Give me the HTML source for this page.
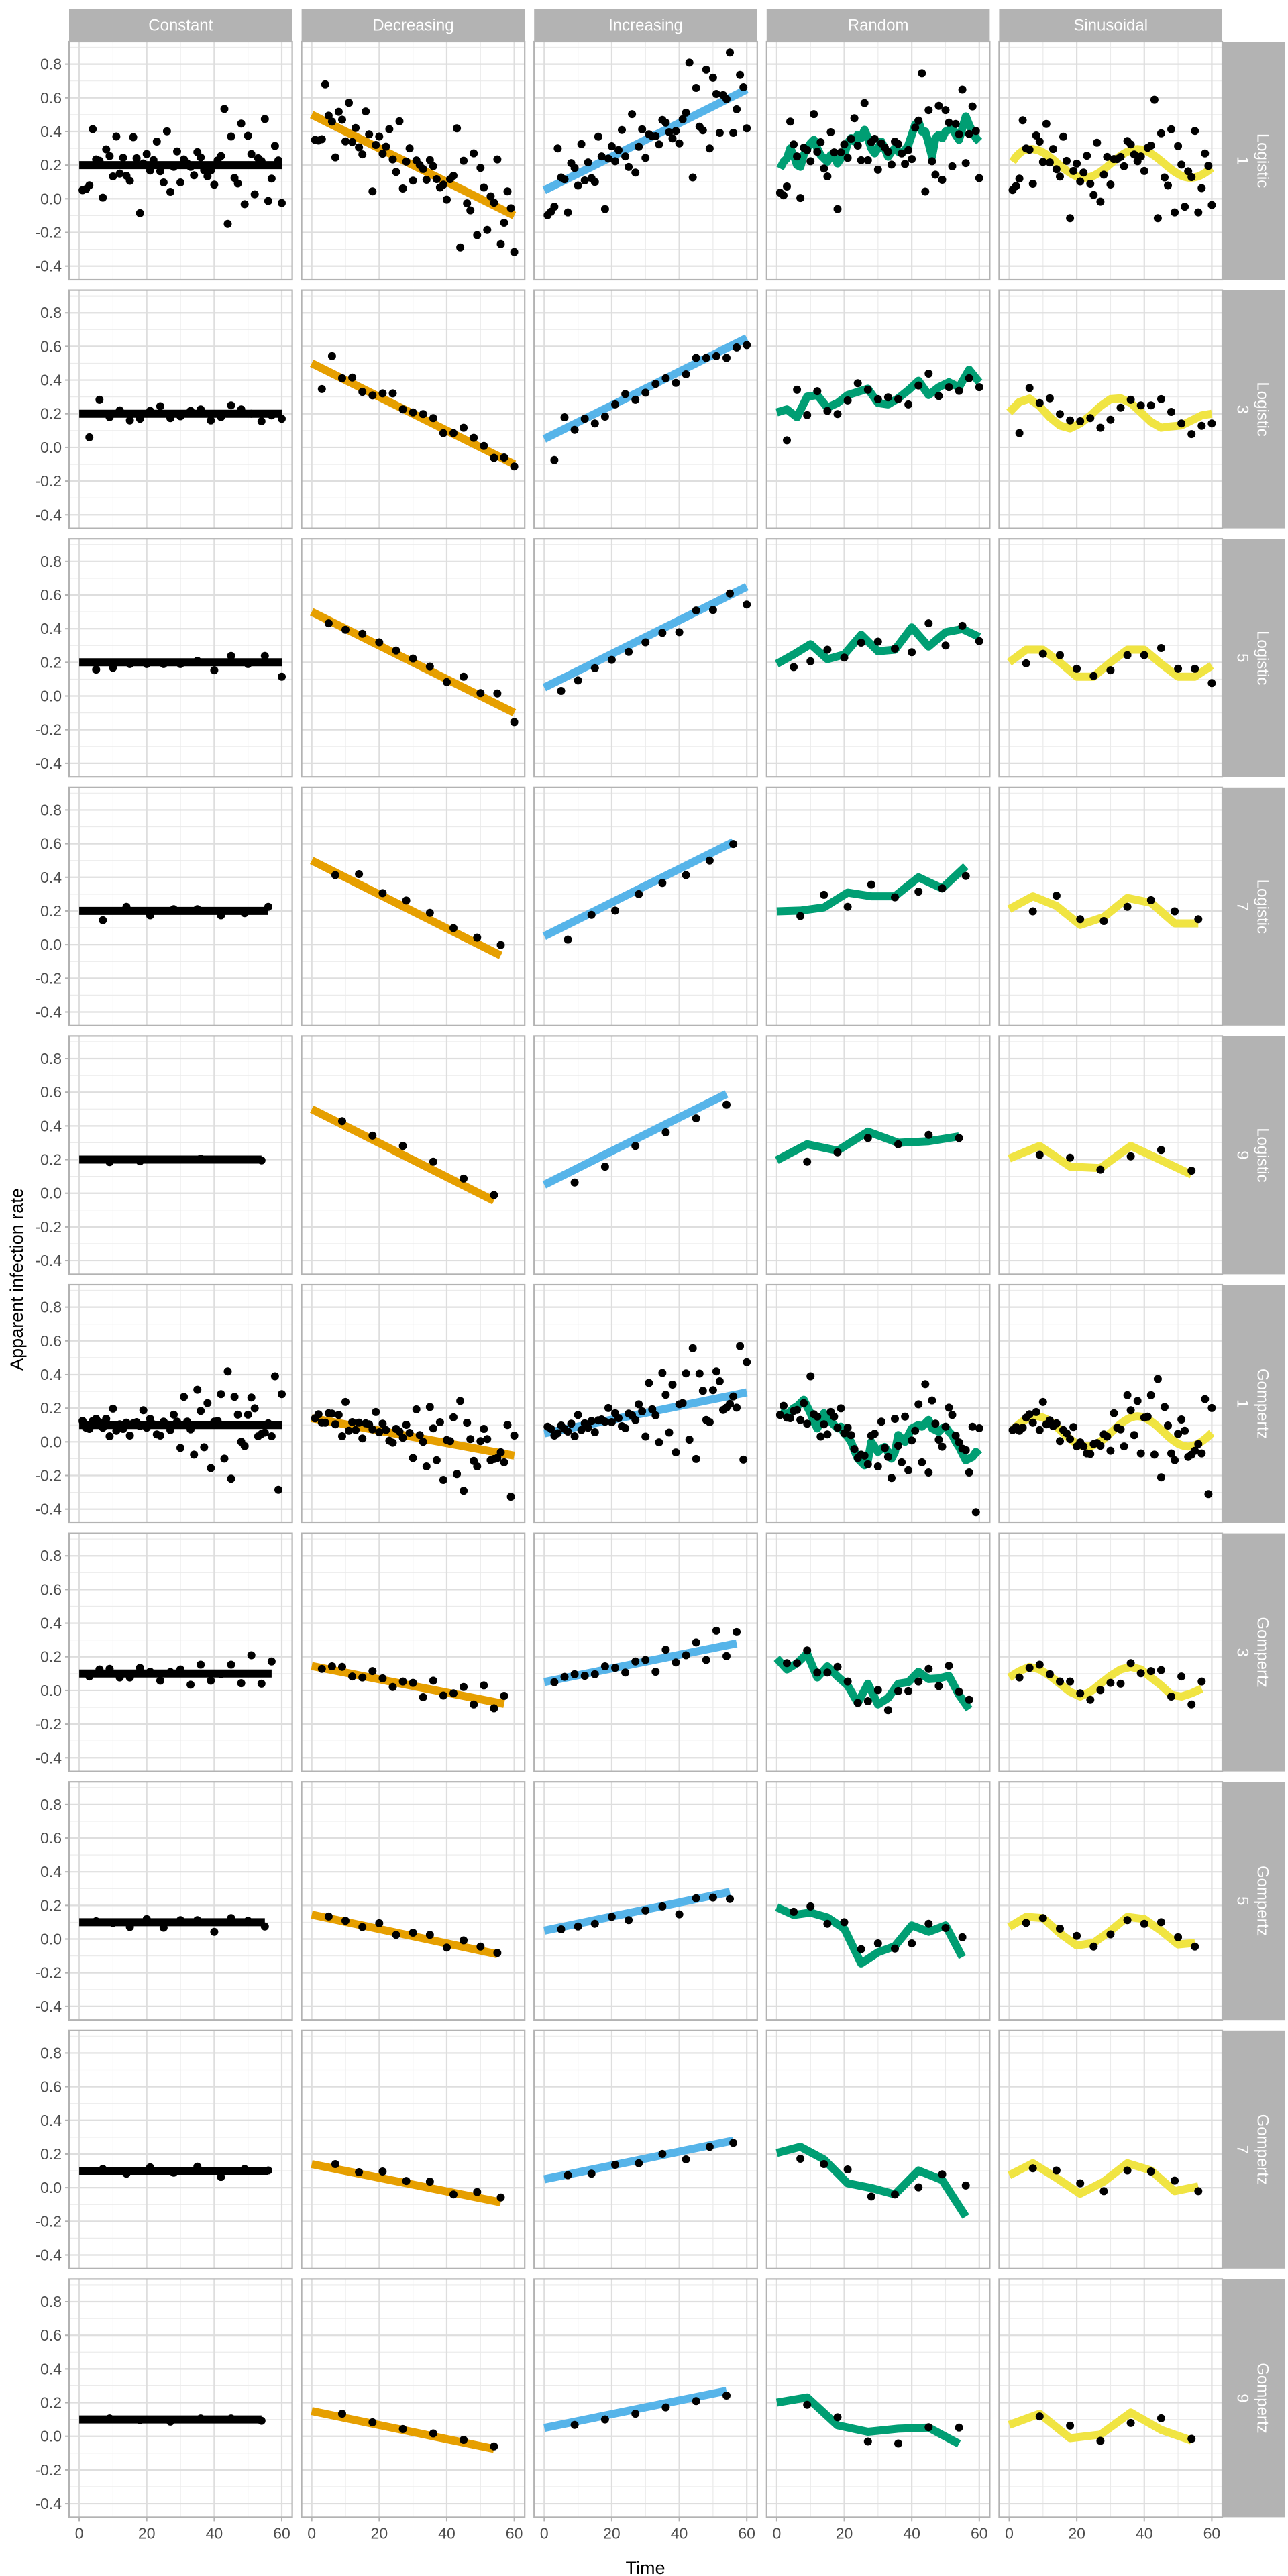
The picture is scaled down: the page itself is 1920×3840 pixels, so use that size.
<!DOCTYPE html>
<html><head><meta charset="utf-8"><style>
html,body{margin:0;padding:0;background:#fff;}
svg{display:block;font-family:"Liberation Sans",sans-serif;}
</style></head><body>
<svg id="chart" width="1920" height="3840" viewBox="0 0 1920 3840" xmlns="http://www.w3.org/2000/svg">
<rect x="0" y="0" width="1920" height="3840" fill="#ffffff"/>
<text x="25" y="1907" transform="rotate(-90 25 1907)" text-anchor="middle" dominant-baseline="central" font-size="27" fill="#000">Apparent infection rate</text>
<text x="962" y="3828" text-anchor="middle" dominant-baseline="central" font-size="27" fill="#000">Time</text>
</svg>
<script>
// ---------- categories ----------
const colNames = ['Constant','Decreasing','Increasing','Random','Sinusoidal'];
const rowModels = ['Logistic','Logistic','Logistic','Logistic','Logistic','Gompertz','Gompertz','Gompertz','Gompertz','Gompertz'];
const rowIntervals = ['1','3','5','7','9','1','3','5','7','9'];
const yTicks = [-0.4,-0.2,0.0,0.2,0.4,0.6,0.8];
const yTickLabels = ['-0.4','-0.2','0.0','0.2','0.4','0.6','0.8'];
const yMinor = [-0.3,-0.1,0.1,0.3,0.5,0.7,0.9];
const xTicks = [0,20,40,60];
const xTickLabels = ['0','20','40','60'];
const xMinor = [10,30,50];

// ---------- sampling times ----------
const tK1 = [1,2,3,4,5,6,7,8,9,10,11,12,13,14,15,16,17,18,19,20,21,22,23,24,25,26,27,28,29,30,31,32,33,34,35,36,37,38,39,40,41,42,43,44,45,46,47,48,49,50,51,52,53,54,55,56,57,58,59,60];
const lK1 = [0,60];
const tL3 = [3,6,9,12,15,18,21,24,27,30,33,36,39,42,45,48,51,54,57,60];
const lL3 = [0,3,6,9,12,15,18,21,24,27,30,33,36,39,42,45,48,51,54,57,60];
const tG3 = [3,6,9,12,15,18,21,24,27,30,33,36,39,42,45,48,51,54,57];
const lG3 = [0,3,6,9,12,15,18,21,24,27,30,33,36,39,42,45,48,51,54,57];
const tL5 = [5,10,15,20,25,30,35,40,45,50,55,60];
const lL5 = [0,5,10,15,20,25,30,35,40,45,50,55,60];
const tG5 = [5,10,15,20,25,30,35,40,45,50,55];
const lG5 = [0,5,10,15,20,25,30,35,40,45,50,55];
const t7 = [7,14,21,28,35,42,49,56];
const l7 = [0,7,14,21,28,35,42,49,56];
const t9 = [9,18,27,36,45,54];
const l9 = [0,9,18,27,36,45,54];

// ---------- trend lines (constant / decreasing / increasing), start at t=0 ----------
const constStart = [0.2,0.2,0.2,0.2,0.2,0.1,0.1,0.1,0.1,0.1];
const constEnd   = [0.2,0.2,0.2,0.2,0.2,0.1,0.1,0.1,0.1,0.1];
const decStart   = [0.5,0.5,0.5,0.5,0.5,0.141,0.145,0.145,0.14,0.15];
const decEnd     = [-0.1,-0.1,-0.1,-0.065,-0.045,-0.082,-0.08,-0.09,-0.087,-0.075];
const incStart   = [0.05,0.05,0.05,0.05,0.05,0.05,0.05,0.05,0.05,0.05];
const incEnd     = [0.65,0.65,0.65,0.61,0.59,0.294,0.28,0.28,0.28,0.27];

// ---------- Logistic 1 ----------
const L1_const = [.051,.057,.080,.414,.234,.226,.007,.294,.254,.133,.370,.150,.244,.137,.107,.366,.241,-.085,.210,.266,.168,.230,.340,.164,.097,.401,.041,.190,.281,.097,.234,.210,.190,.140,.277,.246,.170,.134,.168,.084,.228,.254,.534,-.149,.370,.124,.091,.447,-.032,.374,.266,.027,.241,.224,.474,-.013,.120,.314,.228,-.025];
const L1_dec = [.35,.346,.354,.68,.494,.459,.246,.517,.47,.341,.57,.337,.421,.306,.264,.519,.383,.044,.320,.370,.268,.310,.414,.234,.160,.461,.061,.221,.300,.108,.228,.201,.177,.113,.230,.194,.117,.067,.084,-.005,.117,.137,.419,-.289,.226,-.027,-.069,.270,-.216,.184,.067,-.185,.015,-.023,.234,-.269,-.142,.044,-.056,-.316];
const L1_inc = [-.097,-.077,-.047,.299,.127,.116,-.081,.212,.183,.079,.325,.109,.216,.123,.100,.369,.252,-.061,.239,.312,.223,.289,.409,.252,.189,.503,.156,.309,.413,.243,.383,.372,.372,.323,.469,.452,.396,.359,.403,.329,.473,.512,.809,.127,.659,.429,.407,.767,.299,.719,.623,.392,.616,.593,.869,.392,.532,.736,.663,.419];
const L1_rand = [.036,.02,.073,.459,.323,.252,.005,.303,.289,.223,.503,.279,.336,.18,.133,.396,.276,-.061,.276,.323,.243,.356,.479,.316,.229,.569,.229,.336,.356,.173,.329,.305,.28,.203,.34,.325,.269,.207,.289,.236,.423,.465,.745,.043,.527,.223,.143,.552,.113,.527,.453,.193,.445,.383,.649,.212,.385,.549,.403,.123];
const L1_randLine = [.18,.22,.24,.30,.26,.20,.19,.26,.30,.33,.35,.30,.26,.24,.22,.26,.25,.21,.24,.26,.33,.36,.34,.38,.36,.41,.36,.30,.27,.30,.34,.30,.25,.28,.30,.28,.27,.29,.32,.38,.44,.46,.40,.40,.33,.25,.36,.38,.36,.40,.41,.43,.38,.35,.42,.49,.44,.40,.36,.34];
const L1_sin = [.052,.076,.12,.467,.299,.292,.089,.376,.34,.219,.445,.216,.296,.176,.132,.369,.225,-.115,.165,.209,.103,.156,.256,.089,.023,.333,-.017,.143,.249,.085,.236,.236,.249,.193,.343,.323,.263,.223,.252,.165,.303,.316,.589,-.115,.389,.127,.079,.413,-.081,.313,.203,-.047,.163,.129,.403,-.081,.063,.269,.196,-.037];
const L1_sinLine = [.22,.25,.27,.285,.291,.295,.295,.291,.285,.275,.263,.249,.233,.216,.199,.183,.168,.154,.142,.133,.128,.125,.126,.130,.137,.148,.160,.175,.191,.208,.225,.241,.256,.269,.280,.288,.293,.295,.293,.288,.280,.269,.256,.241,.225,.208,.191,.175,.160,.148,.137,.130,.126,.125,.128,.133,.142,.154,.168,.183];

// ---------- Logistic 3 ----------
const L3_const = [.06,.283,.18,.22,.16,.17,.217,.245,.174,.185,.217,.226,.16,.18,.25,.226,.2,.155,.19,.17];
const L3_dec = [.347,.543,.411,.415,.330,.309,.321,.321,.226,.208,.198,.174,.085,.085,.117,.057,.009,-.062,-.06,-.113];
const L3_inc = [-.075,.179,.104,.17,.142,.183,.255,.317,.283,.325,.377,.411,.383,.434,.532,.532,.542,.532,.594,.608];
const L3_rand = [.042,.343,.192,.334,.217,.198,.279,.381,.343,.287,.298,.287,.255,.368,.438,.306,.358,.336,.411,.358];
const L3_randLine = [.208,.226,.179,.302,.311,.236,.264,.311,.330,.349,.264,.255,.292,.34,.396,.311,.358,.387,.358,.462,.387];
const L3_sin = [.085,.353,.264,.292,.198,.16,.155,.174,.117,.164,.236,.283,.25,.25,.287,.211,.142,.079,.128,.142];
const L3_sinLine = [.208,.27,.29,.245,.179,.13,.113,.142,.189,.245,.287,.292,.264,.208,.151,.117,.125,.13,.16,.19,.2];

// ---------- Logistic 5 ----------
const L5_const = [.157,.168,.19,.19,.19,.19,.209,.153,.238,.19,.238,.115];
const L5_dec = [.432,.394,.37,.319,.27,.223,.175,.083,.115,.017,.015,-.155];
const L5_inc = [.03,.092,.166,.215,.262,.319,.375,.379,.508,.511,.609,.543];
const L5_rand = [.172,.206,.275,.228,.317,.323,.281,.26,.432,.3,.417,.326];
const L5_randLine = [.191,.247,.308,.219,.247,.364,.266,.275,.408,.294,.379,.398,.351];
const L5_sin = [.194,.251,.243,.162,.119,.153,.243,.243,.285,.162,.162,.077];
const L5_sinLine = [.2,.275,.275,.2,.115,.115,.2,.275,.275,.191,.115,.115,.181];

// ---------- Logistic 7 ----------
const L7_const = [.145,.225,.174,.211,.211,.174,.187,.225];
const L7_dec = [.413,.419,.306,.262,.189,.098,.042,-.002];
const L7_inc = [.03,.177,.202,.3,.366,.413,.5,.598];
const L7_rand = [.17,.296,.225,.357,.281,.315,.334,.408];
const L7_randLine = [.198,.202,.221,.309,.287,.287,.4,.334,.466];
const L7_sin = [.198,.291,.151,.14,.225,.264,.198,.151];
const L7_sinLine = [.211,.287,.23,.117,.164,.277,.249,.126,.126];

// ---------- Logistic 9 ----------
const L9_const = [.185,.19,.2,.206,.2,.195];
const L9_dec = [.428,.342,.281,.187,.087,-.011];
const L9_inc = [.064,.158,.281,.362,.445,.526];
const L9_rand = [.187,.243,.328,.291,.347,.328];
const L9_randLine = [.196,.291,.253,.366,.3,.309,.338];
const L9_sin = [.228,.211,.14,.219,.257,.134];
const L9_sinLine = [.206,.281,.158,.149,.281,.196,.111];

// ---------- Gompertz 1 ----------
const G1_const = [.124,.084,.077,.124,.137,.117,.084,.137,.033,.197,.066,.104,.077,.114,.037,.110,.117,.093,.188,.084,.137,.104,.044,.037,.12,.104,.07,.161,.12,-.036,.267,.12,.074,-.076,.31,.184,-.032,.23,-.156,.12,.124,.283,-.1,.419,-.219,.267,.161,0,-.025,.161,.263,.199,.033,.047,.055,.11,.033,.39,-.285,.283];
const G1_dec = [.14,.164,.114,.114,.170,.168,.104,.160,.033,.237,.066,.117,.070,.114,.020,.110,.104,.074,.177,.057,.108,.070,.007,-.005,.077,.061,.024,.101,.053,-.096,.193,.040,0,-.146,.207,.080,-.109,.117,-.226,.011,.004,.146,-.191,.243,-.291,.113,.016,-.113,-.146,.004,.077,.016,-.109,-.102,-.096,-.062,-.122,.100,-.326,.037];
const G1_inc = [.09,.077,.037,.051,.097,.077,.061,.108,.033,.160,.070,.110,.084,.124,.057,.128,.133,.12,.201,.117,.170,.141,.093,.081,.168,.157,.13,.223,.181,.031,.350,.194,.157,-.003,.410,.279,.055,.340,-.063,.223,.230,.407,.013,.556,-.102,.406,.303,.13,.117,.307,.419,.360,.190,.203,.226,.270,.203,.569,-.106,.473];
const G1_rand = [.16,.214,.144,.141,.184,.190,.130,.230,.108,.390,.164,.150,.031,.104,.044,.177,.150,.084,.199,.051,.084,.040,-.043,-.096,-.076,-.082,-.133,.037,.048,-.146,.12,-.036,-.089,-.215,.137,-.023,-.122,.150,-.169,.008,.066,.223,-.122,.343,-.182,.246,.108,.013,-.029,.090,.203,.160,.037,-.003,-.040,-.049,-.182,.090,-.418,.081];
const G1_randLine = [.18,.17,.16,.18,.20,.21,.23,.25,.21,.17,.12,.08,.12,.17,.14,.12,.10,.08,.09,.05,.03,.00,-.05,-.10,-.12,-.14,-.11,.00,-.03,-.06,-.04,-.03,-.06,-.10,-.06,.04,.02,.00,.04,.08,.09,.10,.09,.11,.13,.08,.07,.06,.08,.09,.06,.04,.00,-.03,-.07,-.11,-.10,-.09,-.06,-.08];
const G1_sin = [.07,.088,.066,.084,.144,.164,.114,.177,.070,.237,.104,.128,.093,.11,.004,.070,.051,.017,.088,-.027,-.003,-.027,-.069,-.072,-.013,-.007,-.023,.044,.031,-.053,.170,.084,.074,-.027,.277,.188,.040,.243,-.069,.144,.150,.277,-.076,.374,-.211,.207,.097,-.069,-.109,.047,.133,.066,-.089,-.076,-.053,-.013,-.069,.254,-.311,.201];
const G1_sinLine = [.071,.090,.107,.122,.135,.144,.150,.152,.150,.144,.135,.122,.107,.090,.071,.053,.034,.017,.002,-.011,-.020,-.026,-.028,-.026,-.020,-.011,.002,.017,.034,.053,.071,.090,.107,.122,.135,.144,.150,.152,.150,.144,.135,.122,.107,.090,.071,.053,.034,.017,.002,-.011,-.020,-.026,-.028,-.026,-.020,-.011,.002,.017,.034,.053];

// ---------- Gompertz 3 ----------
const G3_const = [.083,.125,.128,.077,.077,.134,.111,.058,.109,.125,.034,.153,.058,.096,.153,.043,.209,.04,.172];
const G3_dec = [.128,.143,.14,.083,.077,.115,.072,.021,.053,.045,-.04,.058,-.03,-.017,.021,-.083,.03,-.106,-.032];
const G3_inc = [.049,.081,.096,.087,.096,.143,.134,.106,.172,.181,.111,.242,.166,.209,.285,.181,.355,.204,.347];
const G3_rand = [.162,.162,.238,.106,.106,.14,.053,-.074,-.064,.002,-.117,-.004,-.004,.053,.128,.026,.147,-.008,-.055];
const G3_randLine = [.191,.125,.162,.219,.077,.143,.083,.030,-.074,.04,-.083,-.045,.04,.049,.111,.068,.072,.087,-.026,-.111];
const G3_sin = [.077,.134,.153,.096,.053,.053,-.017,-.055,.002,.045,.04,.162,.102,.115,.121,-.036,.083,-.083,.053];
const G3_sinLine = [.077,.115,.14,.125,.087,.04,-.008,-.036,-.008,.04,.087,.125,.14,.125,.077,.03,-.026,-.036,-.017,.011];

// ---------- Gompertz 5 ----------
const G5_const = [.106,.096,.072,.119,.068,.113,.113,.043,.125,.109,.075];
const G5_dec = [.134,.109,.072,.094,.025,.038,.025,-.051,-.008,-.045,-.083];
const G5_inc = [.058,.075,.091,.132,.113,.17,.194,.147,.242,.247,.238];
const G5_rand = [.162,.194,.091,.1,-.06,-.026,-.057,-.026,.091,.066,.011];
const G5_randLine = [.189,.143,.157,.128,.062,-.145,-.079,-.042,.081,.043,.081,-.108];
const G5_sin = [.096,.125,.062,.019,-.045,.028,.113,.091,.1,.011,-.045];
const G5_sinLine = [.072,.132,.125,.034,-.038,-.023,.049,.132,.119,.049,-.032,-.023];

// ---------- Gompertz 7 ----------
const G7_const = [.111,.083,.121,.089,.125,.064,.111,.102];
const G7_dec = [.14,.092,.096,.04,.036,-.04,-.026,-.058];
const G7_inc = [.074,.083,.136,.145,.2,.168,.243,.266];
const G7_rand = [.172,.14,.108,-.053,-.04,.002,.079,.013];
const G7_randLine = [.206,.243,.168,.026,-.002,-.04,.102,.045,-.172];
const G7_sin = [.115,.102,.026,-.021,.102,.096,.042,-.021];
const G7_sinLine = [.074,.145,.058,-.036,.036,.145,.102,-.021,.008];

// ---------- Gompertz 9 ----------
const G9_const = [.106,.096,.087,.106,.106,.092];
const G9_dec = [.134,.083,.043,.017,-.021,-.06];
const G9_inc = [.068,.1,.134,.172,.209,.242];
const G9_rand = [.187,.113,-.031,-.043,.054,.052];
const G9_randLine = [.20,.231,.065,.027,.045,.052,-.045];
const G9_sin = [.118,.063,-.027,.079,.107,-.015];
const G9_sinLine = [.068,.134,-.011,.010,.141,.038,-.025];

// ---------- per-row references ----------
const rowPointTimes = [tK1,tL3,tL5,t7,t9,tK1,tG3,tG5,t7,t9];
const rowLineTimes  = [tK1,lL3,lL5,l7,l9,tK1,lG3,lG5,l7,l9];
const rowTrendEndT  = [lK1,lL3,lL5,l7,l9,lK1,lG3,lG5,l7,l9];
const constRows = [L1_const,L3_const,L5_const,L7_const,L9_const,G1_const,G3_const,G5_const,G7_const,G9_const];
const decRows   = [L1_dec,L3_dec,L5_dec,L7_dec,L9_dec,G1_dec,G3_dec,G5_dec,G7_dec,G9_dec];
const incRows   = [L1_inc,L3_inc,L5_inc,L7_inc,L9_inc,G1_inc,G3_inc,G5_inc,G7_inc,G9_inc];
const randRows  = [L1_rand,L3_rand,L5_rand,L7_rand,L9_rand,G1_rand,G3_rand,G5_rand,G7_rand,G9_rand];
const randLines = [L1_randLine,L3_randLine,L5_randLine,L7_randLine,L9_randLine,G1_randLine,G3_randLine,G5_randLine,G7_randLine,G9_randLine];
const sinRows   = [L1_sin,L3_sin,L5_sin,L7_sin,L9_sin,G1_sin,G3_sin,G5_sin,G7_sin,G9_sin];
const sinLines  = [L1_sinLine,L3_sinLine,L5_sinLine,L7_sinLine,L9_sinLine,G1_sinLine,G3_sinLine,G5_sinLine,G7_sinLine,G9_sinLine];
const colColors = ['#000000','#E69F00','#56B4E9','#009E73','#F0E442'];

// ---------- layout & scales ----------
const NS = 'http://www.w3.org/2000/svg';
const svg = document.getElementById('chart');
const P_LEFT = 103, P_STEP = 346.6, P_W = 332.6;
const P_TOP = 62, R_STEP = 370.6, P_H = 355;
const X_MIN = -3, X_MAX = 63.1, Y_MIN = -0.481, Y_MAX = 0.934;
function xScale(c, t){ return P_LEFT + c*P_STEP + (t - X_MIN)/(X_MAX - X_MIN)*P_W; }
function yScale(r, v){ return P_TOP + r*R_STEP + (Y_MAX - v)/(Y_MAX - Y_MIN)*P_H; }
function mk(tag, attrs, parent){
  const e = document.createElementNS(NS, tag);
  for (const k in attrs) e.setAttribute(k, attrs[k]);
  (parent || svg).appendChild(e);
  return e;
}

// column strips
colNames.forEach((name, c) => {
  const g = mk('g', {});
  
  
  const x0 = P_LEFT + c*P_STEP;
  mk('rect', {x:x0, y:14, width:P_W, height:48, fill:'#B3B3B3'}, g);
  const t = mk('text', {x:x0 + P_W/2, y:38, 'text-anchor':'middle', 'dominant-baseline':'central', 'font-size':24, fill:'#ffffff'}, g);
  t.textContent = name;
});

// row strips
rowModels.forEach((m, r) => {
  const g = mk('g', {});
  
  
  const y0 = P_TOP + r*R_STEP;
  mk('rect', {x:1822, y:y0, width:93, height:P_H, fill:'#B3B3B3'}, g);
  const cx = 1868.5, cy = y0 + P_H/2;
  const t = mk('text', {x:cx, y:cy, 'text-anchor':'middle', 'font-size':24, fill:'#ffffff', transform:'rotate(90 '+cx+' '+cy+')'}, g);
  const s1 = mk('tspan', {x:cx, dy:-6}, t); s1.textContent = m;
  const s2 = mk('tspan', {x:cx, dy:30}, t); s2.textContent = rowIntervals[r];
});

function polyline(parent, c, r, ts, vs, color, name){
  const pts = ts.map((t, i) => xScale(c, t).toFixed(1) + ',' + yScale(r, vs[i]).toFixed(1)).join(' ');
  const pl = mk('polyline', {points:pts, fill:'none', stroke:color, 'stroke-width':12, 'stroke-linejoin':'round', 'stroke-linecap':'butt'}, parent);
  
  
}

for (let r = 0; r < 10; r++){
  for (let c = 0; c < 5; c++){
    const g = mk('g', {});
    
    
    const x0 = P_LEFT + c*P_STEP, y0 = P_TOP + r*R_STEP;
    mk('rect', {x:x0, y:y0, width:P_W, height:P_H, fill:'#ffffff'}, g);
    // minor grid
    yMinor.forEach(v => { const y = yScale(r, v); mk('line', {x1:x0, x2:x0+P_W, y1:y, y2:y, stroke:'#EBEBEB', 'stroke-width':1.2}, g); });
    xMinor.forEach(t => { const x = xScale(c, t); mk('line', {x1:x, x2:x, y1:y0, y2:y0+P_H, stroke:'#EBEBEB', 'stroke-width':1.2}, g); });
    // major grid
    yTicks.forEach(v => { const y = yScale(r, v); mk('line', {x1:x0, x2:x0+P_W, y1:y, y2:y, stroke:'#DEDEDE', 'stroke-width':2.2}, g); });
    xTicks.forEach(t => { const x = xScale(c, t); mk('line', {x1:x, x2:x, y1:y0, y2:y0+P_H, stroke:'#DEDEDE', 'stroke-width':2.2}, g); });

    const pT = rowPointTimes[r];
    const endT = rowTrendEndT[r][rowTrendEndT[r].length - 1];
    let pv;
    if (c === 0){ polyline(g, c, r, [0, endT], [constStart[r], constEnd[r]], colColors[c], 'trend-line-constant'); pv = constRows[r]; }
    else if (c === 1){ polyline(g, c, r, [0, endT], [decStart[r], decEnd[r]], colColors[c], 'trend-line-decreasing'); pv = decRows[r]; }
    else if (c === 2){ polyline(g, c, r, [0, endT], [incStart[r], incEnd[r]], colColors[c], 'trend-line-increasing'); pv = incRows[r]; }
    else if (c === 3){ polyline(g, c, r, rowLineTimes[r], randLines[r], colColors[c], 'true-rate-line-random'); pv = randRows[r]; }
    else { polyline(g, c, r, rowLineTimes[r], sinLines[r], colColors[c], 'true-rate-line-sinusoidal'); pv = sinRows[r]; }

    pv.forEach((v, i) => {
      const t = pT[Math.min(i, pT.length - 1)];
      const dot = mk('circle', {cx:xScale(c, t).toFixed(1), cy:yScale(r, v).toFixed(1), r:6, fill:'#000000'}, g);
      
      
    });
    mk('rect', {x:x0, y:y0, width:P_W, height:P_H, fill:'none', stroke:'#B3B3B3', 'stroke-width':2.2}, g);
  }
  // y axis ticks & labels
  const ga = mk('g', {});
  
  
  yTicks.forEach((v, i) => {
    const y = yScale(r, v);
    mk('line', {x1:P_LEFT-6, x2:P_LEFT, y1:y, y2:y, stroke:'#B3B3B3', 'stroke-width':2}, ga);
    const tx = mk('text', {x:P_LEFT-11, y:y, 'text-anchor':'end', 'dominant-baseline':'central', 'font-size':23, fill:'#4D4D4D'}, ga);
    tx.textContent = yTickLabels[i];
  });
}

// x axis ticks & labels
for (let c = 0; c < 5; c++){
  const gx = mk('g', {});
  
  
  const yb = P_TOP + 9*R_STEP + P_H;
  xTicks.forEach((t, i) => {
    const x = xScale(c, t);
    mk('line', {x1:x, x2:x, y1:yb, y2:yb+6, stroke:'#B3B3B3', 'stroke-width':2}, gx);
    const tx = mk('text', {x:x, y:yb+24, 'text-anchor':'middle', 'dominant-baseline':'central', 'font-size':23, fill:'#4D4D4D'}, gx);
    tx.textContent = xTickLabels[i];
  });
}
</script>
</body></html>
